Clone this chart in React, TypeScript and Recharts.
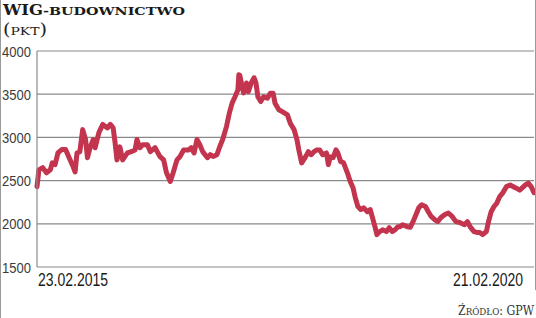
import React from 'react';
import { LineChart, Line, XAxis, YAxis, CartesianGrid } from 'recharts';

// week offsets from 23.02.2015 and index values
const weeks = [
  0, 1, 3, 5, 7, 8, 9.5, 11, 13, 15, 17, 19, 20, 21, 22.5, 24, 25.5, 26.5, 28, 29.5,
  30.5, 32.5, 34.5, 37, 38.5, 40, 41, 42, 43.5, 45, 47.5, 49.5, 51.5, 52.5, 54, 55.5, 58, 59.5, 62, 64.5,
  66.5, 68, 70, 71.5, 73.5, 75, 77, 79.5, 81, 82.5, 84, 85.5, 87, 89.5, 91, 92.5, 94.5, 96, 97.5, 99.5,
  101, 102.5, 104, 105.5, 106, 106.5, 107.5, 108.5, 110, 111, 112.5, 114, 115, 116, 117.5, 119, 121, 122.5, 124, 125,
  127, 129, 131.5, 133, 135, 136.5, 137.5, 139, 141, 142.5, 144, 145.5, 147, 148.5, 150, 152, 153, 154, 155.5, 157,
  158, 159.5, 161, 163, 164.5, 166, 167, 168.5, 170, 171.5, 173.5, 175, 176, 177.5, 178.5, 180, 181.5, 183.5, 185, 186.5,
  188, 189.5, 190.5, 192, 194.5, 196, 197.5, 199, 200.5, 202, 204, 205.5, 207, 209, 210.5, 212, 214, 216, 218, 220,
  222, 224.5, 226, 227.5, 229.5, 231, 232.5, 234, 236, 237, 238.5, 240, 241.5, 243, 244.5, 246.5, 248.5, 250, 251.5, 253.5,
  256.5, 258, 259.5, 261,
];

const points = [
  2430, 2625, 2650, 2590, 2625, 2705, 2685, 2820, 2860, 2860, 2760, 2660, 2600, 2820, 2835, 3090, 2975, 2765, 2890, 2975,
  2880, 3055, 3150, 3110, 3150, 3110, 2940, 2740, 2890, 2740, 2820, 2835, 2855, 2975, 2880, 2915, 2915, 2835, 2880, 2780,
  2740, 2590, 2490, 2590, 2740, 2775, 2855, 2855, 2880, 2820, 2975, 2915, 2835, 2765, 2800, 2780, 2800, 2895, 2975, 3125,
  3280, 3400, 3470, 3550, 3725, 3720, 3610, 3515, 3630, 3530, 3630, 3690, 3630, 3470, 3415, 3470, 3455, 3510, 3510, 3395,
  3320, 3295, 3260, 3165, 3090, 2975, 2855, 2705, 2775, 2835, 2800, 2835, 2855, 2855, 2800, 2820, 2685, 2775, 2765, 2855,
  2820, 2720, 2705, 2590, 2490, 2415, 2315, 2200, 2165, 2185, 2140, 2165, 2085, 1965, 1875, 1910, 1930, 1910, 1955, 1910,
  1930, 1965, 1965, 1990, 1965, 1960, 2025, 2105, 2185, 2220, 2200, 2140, 2085, 2045, 2025, 2070, 2105, 2125, 2085, 2025,
  2015, 1990, 2025, 1965, 1910, 1900, 1900, 1875, 1910, 2015, 2140, 2200, 2240, 2315, 2355, 2430, 2450, 2430, 2415, 2390,
  2450, 2470, 2430, 2360,
];

const yTicks = [1500, 2000, 2500, 3000, 3500, 4000];
const xTicks = [0, 261];
const xLabels = ['23.02.2015', '21.02.2020'];

const data = weeks.map((w, i) => ({ week: w, value: points[i] }));

const SANS = "'Liberation Sans', Arial, sans-serif";
const SERIF = "'DejaVu Serif', 'Liberation Serif', serif";

// labels are set in a narrow face, so squeeze the sans horizontally
const YTick = (props: any) => {
  const { y, payload } = props;
  return (
    <text
      transform={`translate(2,${y + 5.5}) scale(0.84,1)`}
      textAnchor="start"
      fontFamily={SANS}
      fontSize={15.5}
      fill="#3a3a3a"
    >
      {payload.value}
    </text>
  );
};

const XTick = (props: any) => {
  const { x, payload, index } = props;
  const first = index === 0;
  return (
    <text
      transform={`translate(${first ? x + 1 : x - 1},286) scale(0.8,1)`}
      textAnchor={first ? 'start' : 'end'}
      fontFamily={SANS}
      fontSize={17.5}
      fill="#1a1a1a"
    >
      {xLabels[xTicks.indexOf(payload.value)]}
    </text>
  );
};

export default function App() {
  return (
    <div style={{ position: 'absolute', left: 0, top: 0, width: 536, height: 318, background: '#fff' }}>
      <LineChart width={536} height={318} data={data} margin={{ top: 51, right: 2, bottom: 21, left: 0 }}>
        <CartesianGrid vertical={false} stroke="#8a8a8a" strokeWidth={1.2} />
        <XAxis
          dataKey="week"
          type="number"
          domain={[0, 261]}
          ticks={xTicks}
          axisLine={false}
          tickLine={false}
          height={30}
          tick={<XTick />}
        />
        <YAxis
          type="number"
          domain={[1500, 4000]}
          ticks={yTicks}
          width={37}
          axisLine={{ stroke: '#8a8a8a', strokeWidth: 1.2 }}
          tickLine={false}
          tick={<YTick />}
        />
        <Line
          type="linear"
          dataKey="value"
          stroke="#c3344f"
          strokeWidth={5}
          strokeLinejoin="round"
          strokeLinecap="round"
          dot={false}
          isAnimationActive={false}
        />
      </LineChart>
      <svg
        width={536}
        height={318}
        style={{ position: 'absolute', left: 0, top: 0, pointerEvents: 'none' }}
      >
        <line x1={0.5} y1={0} x2={0.5} y2={318} stroke="#9a9a9a" />
        <line x1={535.5} y1={0} x2={535.5} y2={290} stroke="#9a9a9a" />
        <text x={3} y={15} fontFamily={SERIF} fontWeight="bold" fontSize={14.5} fill="#1a1a1a" textLength={40} lengthAdjust="spacingAndGlyphs">
          WIG
        </text>
        <text x={43} y={15} fontFamily={SERIF} fontWeight="bold" fontSize={10.5} fill="#1a1a1a" textLength={142} lengthAdjust="spacingAndGlyphs">
          -BUDOWNICTWO
        </text>
        <text x={3} y={35} fontFamily={SERIF} fill="#222" textLength={44} lengthAdjust="spacingAndGlyphs">
          <tspan fontSize={16}>(</tspan>
          <tspan fontSize={11.5}>PKT</tspan>
          <tspan fontSize={16}>)</tspan>
        </text>
        <text x={458} y={315} fontFamily={SERIF} fill="#333" textLength={76} lengthAdjust="spacingAndGlyphs">
          <tspan fontSize={12}>Ź</tspan>
          <tspan fontSize={9.5}>RÓDŁO</tspan>
          <tspan fontSize={12}>: GPW</tspan>
        </text>
      </svg>
    </div>
  );
}
